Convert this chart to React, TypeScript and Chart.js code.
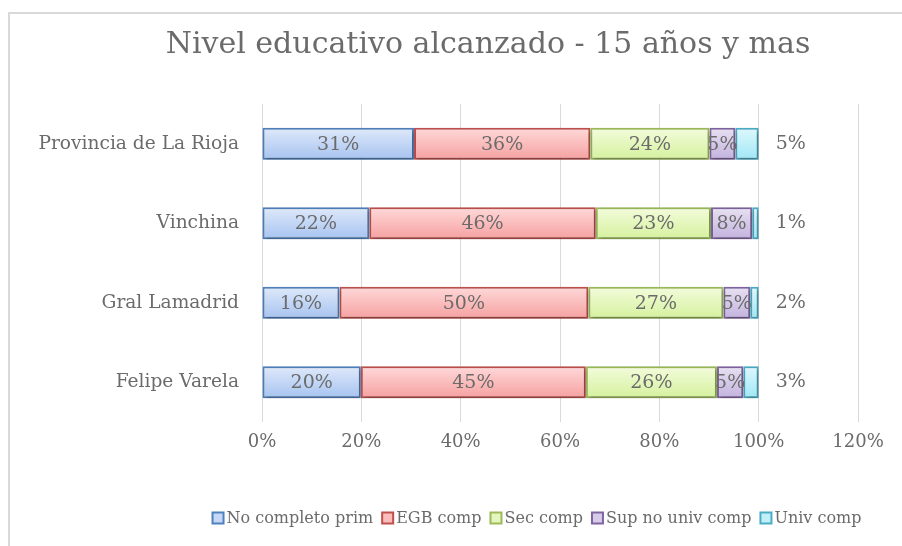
import React, { useEffect, useRef } from "react";
import { Chart, registerables } from "chart.js";

Chart.register(...registerables);

const categories = ["Provincia de La Rioja", "Vinchina", "Gral Lamadrid", "Felipe Varela"];
const seriesNames = ["No completo prim", "EGB comp", "Sec comp", "Sup no univ comp", "Univ comp"];
const noCompletoPrim = [30.6, 21.6, 15.6, 19.9];
const egbComp = [35.5, 45.6, 50.1, 45.3];
const secComp = [24.0, 23.2, 27.2, 26.4];
const supNoUnivComp = [5.2, 8.3, 5.4, 5.3];
const univComp = [4.7, 1.3, 1.7, 3.1];
const xTicks = [0, 20, 40, 60, 80, 100, 120];

const seriesValues = [noCompletoPrim, egbComp, secComp, supNoUnivComp, univComp];
const borderColors = ["#4f81bd", "#c0504d", "#9bbb59", "#8064a2", "#4bacc6"];
const gradTop = ["#dfe9fa", "#ffd9d9", "#f3fcdc", "#e8e1f2", "#def8fc"];
const gradBottom = ["#a6c3f0", "#f6a0a0", "#d5f19d", "#c2b2de", "#a0e7f6"];
const legendFill = ["#c6d8f5", "#fbbcbc", "#e4f6bf", "#d6cbe9", "#c2f0f9"];

const FONT = "'DejaVu Serif', serif";
const TEXT = "#6b6b6b";

export default function App() {
  const ref = useRef<HTMLCanvasElement | null>(null);

  useEffect(() => {
    if (!ref.current) return;

    const framePlugin = {
      id: "frame",
      beforeDraw(chart: any) {
        const c = chart.ctx;
        c.save();
        c.strokeStyle = "#d9d9d9";
        c.lineWidth = 2;
        c.strokeRect(9, 13, 1200, 1200);
        c.fillStyle = TEXT;
        c.font = `30px ${FONT}`;
        c.textAlign = "center";
        c.textBaseline = "middle";
        c.fillText("Nivel educativo alcanzado - 15 años y mas", 488, 45);
        c.restore();
      },
      afterDraw(chart: any) {
        const c = chart.ctx;
        c.save();
        c.font = `16px ${FONT}`;
        c.textBaseline = "middle";
        c.textAlign = "left";
        const box = 11;
        const gapBoxText = 3;
        const gapItems = 9;
        const widths = seriesNames.map((n) => c.measureText(n).width);
        const total =
          widths.reduce((a, b) => a + b, 0) +
          seriesNames.length * (box + gapBoxText) +
          (seriesNames.length - 1) * gapItems;
        let x = 537 - total / 2;
        const y = 518;
        seriesNames.forEach((n, i) => {
          c.fillStyle = legendFill[i];
          c.strokeStyle = borderColors[i];
          c.lineWidth = 2;
          c.fillRect(x, y - box / 2, box, box);
          c.strokeRect(x, y - box / 2, box, box);
          x += box + gapBoxText;
          c.fillStyle = TEXT;
          c.fillText(n, x, y + 1);
          x += widths[i] + gapItems;
        });
        c.restore();
      },
    };

    const shadowPlugin = {
      id: "shadow",
      beforeDatasetDraw(chart: any) {
        const c = chart.ctx;
        c.save();
        c.shadowColor = "rgba(0,0,0,0.35)";
        c.shadowBlur = 4;
        c.shadowOffsetX = 1;
        c.shadowOffsetY = 2;
      },
      afterDatasetDraw(chart: any) {
        chart.ctx.restore();
      },
    };

    const labelPlugin = {
      id: "labels",
      afterDatasetsDraw(chart: any) {
        const c = chart.ctx;
        c.save();
        c.font = `19px ${FONT}`;
        c.fillStyle = TEXT;
        c.textBaseline = "middle";
        chart.data.datasets.forEach((ds: any, i: number) => {
          const meta = chart.getDatasetMeta(i);
          meta.data.forEach((bar: any, j: number) => {
            const txt = Math.round(ds.data[j]) + "%";
            if (i === chart.data.datasets.length - 1) {
              c.textAlign = "left";
              c.fillText(txt, bar.x + 17, bar.y);
            } else {
              c.textAlign = "center";
              c.fillText(txt, (bar.x + bar.base) / 2, bar.y + 1);
            }
          });
        });
        c.restore();
      },
    };

    const datasets = seriesNames.map((name, i) => ({
      label: name,
      data: seriesValues[i],
      borderColor: borderColors[i],
      borderWidth: 2,
      borderSkipped: false,
      backgroundColor: (ctx: any) => {
        const chart = ctx.chart;
        const y = chart.scales && chart.scales.y;
        if (!y || ctx.type !== "data") return legendFill[i];
        const cy = y.getPixelForValue(ctx.dataIndex);
        if (!isFinite(cy)) return legendFill[i];
        const g = chart.ctx.createLinearGradient(0, cy - 16, 0, cy + 16);
        g.addColorStop(0, gradTop[i]);
        g.addColorStop(1, gradBottom[i]);
        return g;
      },
      categoryPercentage: 0.8,
      barPercentage: 0.5,
    }));

    const chart = new Chart(ref.current, {
      type: "bar",
      data: { labels: categories, datasets },
      options: {
        indexAxis: "y",
        responsive: false,
        animation: false,
        layout: { padding: { left: 10, right: 44, top: 104, bottom: 0 } },
        scales: {
          x: {
            stacked: true,
            min: 0,
            max: 120,
            afterBuildTicks(scale: any) {
              scale.ticks = xTicks.map((v) => ({ value: v }));
            },
            afterFit(scale: any) {
              scale.height = 124;
              scale.paddingLeft = 0;
              scale.paddingRight = 0;
            },
            grid: { color: "#d9d9d9", lineWidth: 1, drawTicks: false },
            border: { display: false },
            ticks: {
              padding: 10,
              color: TEXT,
              font: { family: FONT, size: 18 },
              callback: (v: any) => v + "%",
            },
          },
          y: {
            stacked: true,
            afterFit(scale: any) {
              scale.width = 252;
            },
            grid: { display: false, drawTicks: false },
            border: { display: false },
            ticks: {
              padding: 23,
              color: TEXT,
              font: { family: FONT, size: 18.6 },
            },
          },
        },
        plugins: {
          title: { display: false },
          tooltip: { enabled: false },
          legend: { display: false },
        },
      },
      plugins: [framePlugin, shadowPlugin, labelPlugin],
    } as any);

    return () => chart.destroy();
  }, []);

  return (
    <div style={{ position: "absolute", left: 0, top: 0, width: 902, height: 546 }}>
      <canvas ref={ref} width={902} height={546} />
    </div>
  );
}
